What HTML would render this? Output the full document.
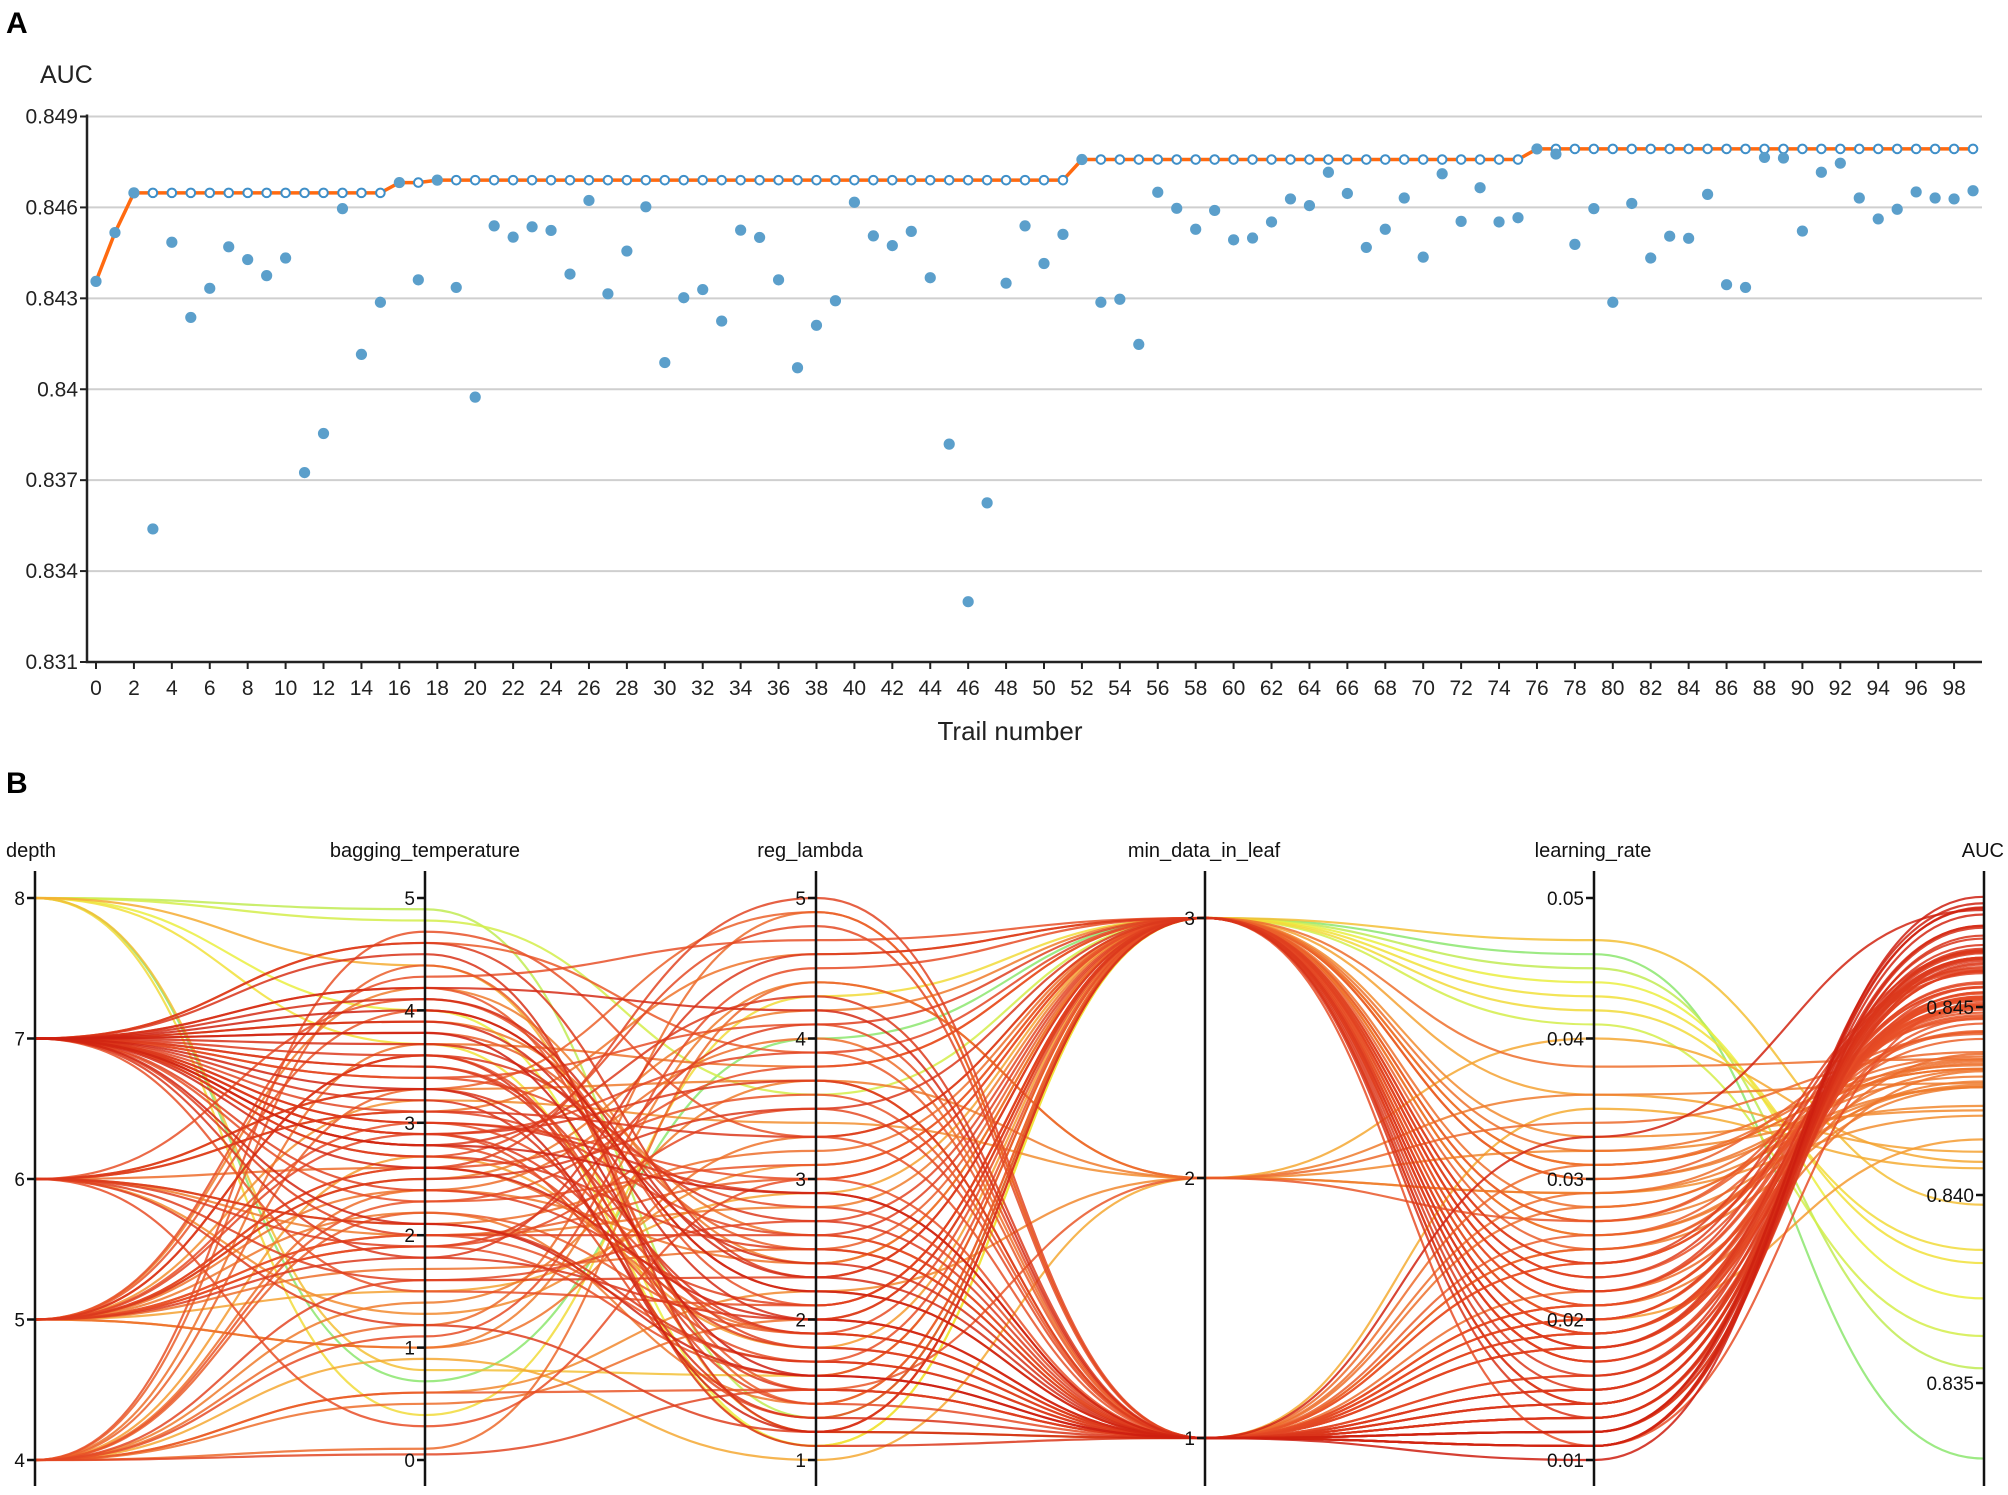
<!DOCTYPE html>
<html><head><meta charset="utf-8"><style>
html,body{margin:0;padding:0;background:#fff}
svg{display:block;font-family:"Liberation Sans","DejaVu Sans",sans-serif}
</style></head><body>
<svg id="chart" width="2008" height="1495" viewBox="0 0 2008 1495">
<text x="6" y="33" font-size="30" font-weight="bold">A</text>
<text x="6" y="793" font-size="30" font-weight="bold">B</text>
<g id="topchart"></g>
<g id="botchart"></g>
</svg>
<script>
const trials = Array.from({length:100},(_, i)=>i);
const aucValues = [0.84356,0.84517,0.84648,0.83539,0.84485,0.84237,0.84333,0.84470,0.84428,0.84375,
0.84433,0.83725,0.83854,0.84596,0.84115,0.84287,0.84682,0.84361,0.84690,0.84336,
0.83974,0.84539,0.84502,0.84536,0.84524,0.84380,0.84623,0.84315,0.84456,0.84602,
0.84088,0.84302,0.84329,0.84225,0.84525,0.84501,0.84361,0.84071,0.84211,0.84292,
0.84617,0.84506,0.84474,0.84521,0.84368,0.83819,0.83299,0.83625,0.84350,0.84539,
0.84415,0.84511,0.84758,0.84287,0.84297,0.84148,0.84650,0.84597,0.84528,0.84590,
0.84493,0.84499,0.84552,0.84628,0.84606,0.84716,0.84646,0.84468,0.84528,0.84631,
0.84436,0.84711,0.84554,0.84665,0.84552,0.84566,0.84793,0.84776,0.84478,0.84596,
0.84287,0.84613,0.84433,0.84505,0.84498,0.84643,0.84345,0.84336,0.84765,0.84763,
0.84522,0.84716,0.84746,0.84631,0.84562,0.84594,0.84651,0.84631,0.84628,0.84655];
const yTicks = [0.849,0.846,0.843,0.84,0.837,0.834,0.831];
const yTickLabels = ["0.849","0.846","0.843","0.84","0.837","0.834","0.831"];

const depthVals = [6,7,7,8,5,4,6,7,5,4, 7,8,8,7,5,6,7,4,7,5, 8,7,6,5,7,4,7,5,7,6, 4,5,7,6,7,5,4,8,5,6, 7,7,5,4,6,8,8,8,5,7, 4,6,7,5,4,4,7,6,5,7, 4,5,7,7,6,7,5,4,7,5, 4,7,5,7,4,5,7,7,4,7, 5,7,4,5,7,6,4,5,7,7, 5,7,7,6,4,7,5,7,7,6];
const baggingVals = [2.1,3.4,1.8,4.9,2.6,0.6,3.1,4.2,2.0,1.2, 3.8,4.0,0.4,2.9,1.5,3.3,4.5,2.4,3.7,1.0, 0.8,2.7,4.1,1.9,3.0,0.1,3.6,2.2,4.6,1.6, 0.9,2.5,3.9,1.3,2.8,4.3,0.5,4.4,3.2,2.0, 3.5,2.3,4.0,1.1,2.6,3.7,0.7,4.8,1.7,2.9, 3.3,0.3,2.1,4.2,1.4,2.7,3.0,1.9,3.6,2.4, 4.7,2.0,3.1,2.8,1.2,3.9,2.5,0.6,3.4,1.8, 2.2,4.1,2.9,3.2,1.6,2.6,3.8,4.0,2.3,3.5, 1.0,2.7,4.4,3.0,1.5,2.1,3.7,2.4,3.3,2.8, 1.9,4.2,2.6,3.1,0.05,2.0,3.6,2.9,4.6,3.3];
const regLambdaVals = [3.2,4.1,2.0,1.3,3.6,2.2,4.6,1.5,3.0,4.9, 2.5,1.1,4.3,1.8,2.9,3.7,1.2,4.0,2.4,3.3, 1.6,4.8,2.1,3.5,1.9,4.4,2.7,1.4,3.9,2.3, 1.0,4.2,2.6,3.1,1.7,4.7,2.0,1.2,3.4,2.8, 1.5,3.8,2.2,4.5,1.9,1.1,4.0,3.6,2.5,1.3, 4.9,3.0,1.6,2.4,3.7,1.8,2.9,4.1,1.4,2.1, 3.3,1.7,2.6,4.3,1.2,2.0,3.5,1.5,2.8,4.6, 1.9,2.3,3.9,1.3,2.7,5.0,1.6,2.2,3.1,1.8, 4.4,2.5,1.4,3.0,2.1,1.7,3.8,2.4,1.2,2.9, 1.6,4.2,2.0,3.3,1.5,2.6,1.1,3.7,2.3,1.9];
const minDataVals = [3,1,3,3,1,2,3,1,3,1, 3,3,3,1,3,1,3,1,1,3, 3,1,3,1,3,2,1,3,1,3, 2,3,1,3,1,3,3,1,2,3, 1,3,1,3,1,3,3,3,1,3, 1,3,1,3,2,3,1,3,1,3, 1,3,1,1,3,1,3,2,1,3, 1,1,3,1,3,1,1,1,3,1, 2,1,3,1,3,1,3,3,1,1, 3,1,1,3,1,3,1,1,3,1];
const learningRateVals = [0.028,0.021,0.018,0.045,0.024,0.032,0.026,0.019,0.030,0.022, 0.027,0.044,0.042,0.015,0.036,0.025,0.013,0.029,0.011,0.031, 0.047,0.016,0.023,0.020,0.017,0.034,0.014,0.030,0.019,0.024, 0.040,0.026,0.021,0.033,0.018,0.022,0.038,0.035,0.029,0.027, 0.012,0.021,0.024,0.019,0.031,0.043,0.046,0.041,0.028,0.017, 0.025,0.011,0.033,0.030,0.036,0.020,0.014,0.023,0.018,0.022, 0.021,0.019,0.016,0.012,0.018,0.011,0.015,0.027,0.020,0.014, 0.026,0.011,0.019,0.013,0.020,0.018,0.010,0.012,0.024,0.015, 0.029,0.013,0.025,0.020,0.021,0.014,0.032,0.031,0.011,0.012, 0.022,0.012,0.011,0.016,0.019,0.017,0.013,0.015,0.014,0.013];

const NS="http://www.w3.org/2000/svg";
function mk(tag, attrs, parent, text){const e=document.createElementNS(NS,tag);for(const k in attrs)e.setAttribute(k,attrs[k]);if(text!==undefined)e.textContent=text;parent.appendChild(e);return e;}

// ---- TOP CHART ----
const topG=document.getElementById('topchart');
const X0=87, X1=1982, yTop=116.5, yBot=662;
const xs=i=>96+i*18.96;
const ys=v=>yTop+(0.849-v)/0.018*(yBot-yTop);
yTicks.forEach((t,k)=>{
  const g=mk('line',{x1:X0,x2:X1,y1:ys(t),y2:ys(t),stroke:'#cfcfcf','stroke-width':2},topG);
  
  
  const tk=mk('line',{x1:X0-7,x2:X0,y1:ys(t),y2:ys(t),stroke:'#222','stroke-width':2},topG);
  
  
  const lb=mk('text',{x:X0-9,y:ys(t)+7,'font-size':21,'text-anchor':'end',fill:'#222'},topG,yTickLabels[k]);
  
  
});
const ax=mk('path',{d:`M${X0},${yTop-2}V${yBot}H${X1}`,fill:'none',stroke:'#222','stroke-width':2.5},topG);


trials.forEach(i=>{ if(i%2===0){
  const t=mk('line',{x1:xs(i),x2:xs(i),y1:yBot,y2:yBot+7,stroke:'#222','stroke-width':2},topG);
  
  
  const l=mk('text',{x:xs(i),y:yBot+33,'font-size':21,'text-anchor':'middle',fill:'#222'},topG,String(i));
  
  
}});
const yt=mk('text',{x:40,y:83,'font-size':25,fill:'#222'},topG,'AUC');


const xt=mk('text',{x:1010,y:740,'font-size':26,'text-anchor':'middle',fill:'#222'},topG,'Trail number');


const best=[];let m=-1;aucValues.forEach(v=>{m=Math.max(m,v);best.push(m);});
const bl=mk('path',{d:best.map((v,i)=>(i?'L':'M')+xs(i)+','+ys(v)).join(''),fill:'none',stroke:'#ff6a10','stroke-width':3.5},topG);


best.forEach((v,i)=>{
  const c=mk('circle',{cx:xs(i),cy:ys(v),r:4.3,fill:'#fff',stroke:'#3f8fc8','stroke-width':2},topG);
  
  
});
aucValues.forEach((v,i)=>{
  const c=mk('circle',{cx:xs(i),cy:ys(v),r:5.6,fill:'#5b9fcb'},topG);
  
  
});

// ---- BOTTOM PARALLEL COORDS ----
const botG=document.getElementById('botchart');
const PT=898, PB=1460;
const axesDef=[
 {name:'depth',x:35,vals:depthVals,lo:4,hi:8,yl:PB,yh:PT,ticks:[4,5,6,7,8],lab:t=>String(t),title:'depth',anchor:'start',tx:6},
 {name:'bagging_temperature',x:425,vals:baggingVals,lo:0,hi:5,yl:PB,yh:PT,ticks:[0,1,2,3,4,5],lab:t=>String(t),title:'bagging_temperature',anchor:'middle',tx:425},
 {name:'reg_lambda',x:816,vals:regLambdaVals,lo:1,hi:5,yl:PB,yh:PT,ticks:[1,2,3,4,5],lab:t=>String(t),title:'reg_lambda',anchor:'middle',tx:810},
 {name:'min_data_in_leaf',x:1205,vals:minDataVals,lo:1,hi:3,yl:1438,yh:918,ticks:[1,2,3],lab:t=>String(t),title:'min_data_in_leaf',anchor:'middle',tx:1204},
 {name:'learning_rate',x:1594,vals:learningRateVals,lo:0.01,hi:0.05,yl:PB,yh:PT,ticks:[0.01,0.02,0.03,0.04,0.05],lab:t=>t.toFixed(2),title:'learning_rate',anchor:'middle',tx:1593},
 {name:'AUC',x:1984,vals:aucValues,lo:0.835,hi:0.845,yl:1383,yh:1007,ticks:[0.835,0.84,0.845],lab:t=>t.toFixed(3),title:'AUC',anchor:'end',tx:2004}
];
const sc=(a,v)=>a.yl+(v-a.lo)/(a.hi-a.lo)*(a.yh-a.yl);
function col(v){
  let t=(v-0.833)/(0.848-0.833);t=Math.max(0,Math.min(1,t));
  const stops=[[0,[140,230,110]],[0.3,[240,240,60]],[0.55,[245,160,50]],[0.8,[232,80,40]],[1,[205,30,15]]];
  for(let k=1;k<stops.length;k++){if(t<=stops[k][0]){const a=stops[k-1],b=stops[k];const f=(t-a[0])/(b[0]-a[0]);
    return 'rgb('+a[1].map((c,j)=>Math.round(c+(b[1][j]-c)*f)).join(',')+')';}}
  return 'rgb(205,30,15)';
}
const order=trials.slice().sort((a,b)=>aucValues[a]-aucValues[b]);
order.forEach(i=>{
  let d='';
  axesDef.forEach((a,k)=>{
    const x=a.x,y=sc(a,a.vals[i]);
    if(k===0)d+=`M${x},${y}`;
    else{const p=axesDef[k-1],py=sc(p,p.vals[i]),mx=(p.x+x)/2;d+=`C${mx},${py} ${mx},${y} ${x},${y}`;}
  });
  const p=mk('path',{d:d,fill:'none',stroke:col(aucValues[i]),'stroke-width':2.2,'stroke-opacity':0.85},botG);
  
  
});
axesDef.forEach(a=>{
  const l=mk('line',{x1:a.x,x2:a.x,y1:871,y2:1486,stroke:'#111','stroke-width':2.5},botG);
  
  
  a.ticks.forEach(t=>{
    const y=sc(a,t);
    const tk=mk('line',{x1:a.x-8,x2:a.x,y1:y,y2:y,stroke:'#111','stroke-width':2.5},botG);
    
    
    const tl=mk('text',{x:a.x-10,y:y+7,'font-size':19,'text-anchor':'end',fill:'#111'},botG,a.lab(t));
    
    
  });
  const ti=mk('text',{x:a.tx,y:857,'font-size':20,'text-anchor':a.anchor,fill:'#111'},botG,a.title);
  
  
});
</script>
</body></html>
